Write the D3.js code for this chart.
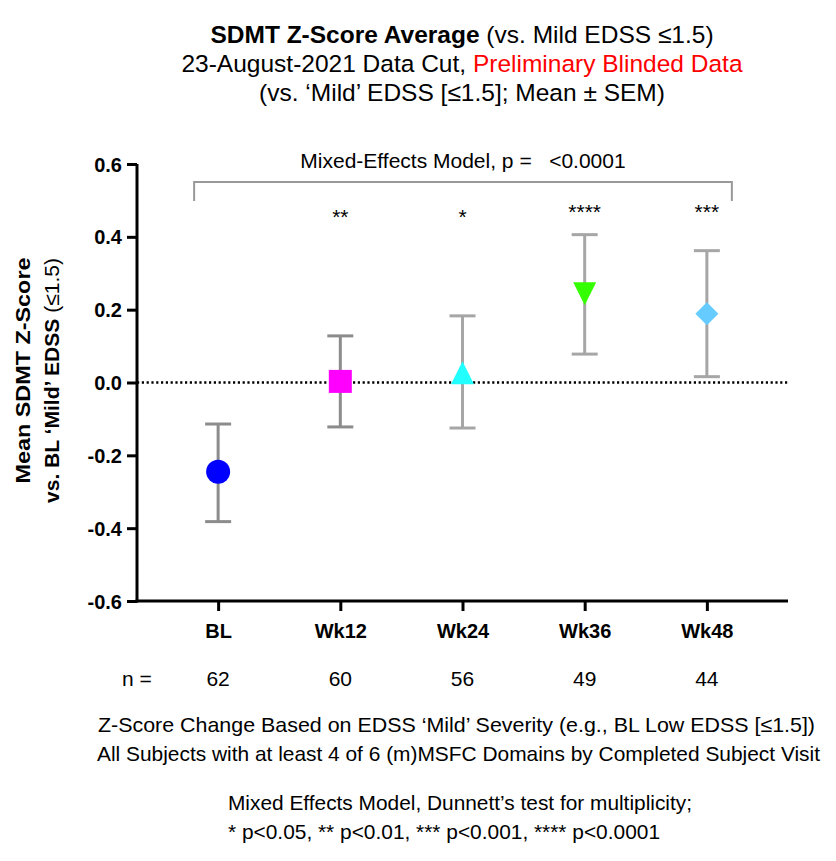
<!DOCTYPE html>
<html>
<head>
<meta charset="utf-8">
<script src="https://cdn.jsdelivr.net/npm/d3@7"></script>
<style>
  body { margin: 0; background: #fff; }
  text { font-family: 'Liberation Sans', Arial, sans-serif; }
</style>
</head>
<body>
<div id="graf"></div>
<script>
// SDMT Z-Score promedio por visita

// Datos
categorias = ['BL', 'Wk12', 'Wk24', 'Wk36', 'Wk48']
medias     = [-0.245, 0.003, 0.027, 0.244, 0.189]
bajos      = [-0.382, -0.122, -0.125, 0.078, 0.016]
altos      = [-0.114, 0.128, 0.183, 0.406, 0.362]
ns         = [62, 60, 56, 49, 44]
estrellas  = ['', '**', '*', '****', '***']
colores    = ['#0000ff', '#ff00ff', '#22ffff', '#33ff00', '#66ccff']
formas     = ['circulo', 'cuadrado', 'triangulo', 'triangulo_inv', 'diamante']
yTicks     = [-0.6, -0.4, -0.2, 0.0, 0.2, 0.4, 0.6]

ancho_total = 836
alto_total  = 861
margins = { top: 164, left: 137, right: 48, bottom: 260 }
ancho = ancho_total - margins.left - margins.right
alto  = alto_total - margins.top - margins.bottom

svg = d3.select('#graf').append('svg')
        .attr('width', ancho_total)
        .attr('height', alto_total)

g = svg.append('g')
        .attr('transform', `translate(${ margins.left }, ${ margins.top })`)

// Escaladores
x = d3.scalePoint().domain(categorias).range([0, ancho]).padding(0.664)
y = d3.scaleLinear().domain([-0.6, 0.6]).range([alto, 0])

// Titulo
titulo = svg.append('g').attr('text-anchor', 'middle').attr('font-size', '24.5px')
t1 = titulo.append('text').attr('x', 462).attr('y', 43)
t1.append('tspan').attr('font-weight', 'bold').text('SDMT Z-Score Average')
t1.append('tspan').text(' (vs. Mild EDSS ≤1.5)')
t2 = titulo.append('text').attr('x', 462).attr('y', 72)
t2.append('tspan').text('23-August-2021 Data Cut, ')
t2.append('tspan').attr('fill', '#ff0000').text('Preliminary Blinded Data')
titulo.append('text').attr('x', 462).attr('y', 101)
  .text('(vs. ‘Mild’ EDSS [≤1.5]; Mean ± SEM)')

// Linea punteada en cero
g.append('line')
  .attr('x1', 0).attr('x2', ancho)
  .attr('y1', y(0)).attr('y2', y(0))
  .attr('stroke', 'black')
  .attr('stroke-width', 2.5)
  .attr('stroke-dasharray', '2.2,2.6')

// Ejes
yAxis = d3.axisLeft(y)
          .tickValues(yTicks)
          .tickFormat(d => d.toFixed(1))
          .tickSize(10)
          .tickPadding(5)
xAxis = d3.axisBottom(x)
          .tickSize(10)
          .tickPadding(13)

gy = g.append('g').call(yAxis)
gx = g.append('g').attr('transform', `translate(0,${ alto })`).call(xAxis)

;[gx, gy].forEach(a => {
  a.select('.domain').attr('stroke-width', 3)
  a.selectAll('.tick line').attr('stroke-width', 3)
  a.selectAll('text')
    .attr('font-family', "'Liberation Sans', Arial, sans-serif")
    .attr('font-weight', 'bold')
    .attr('fill', 'black')
})
// dominio sin los ticks exteriores
gy.select('.domain').attr('d', `M0,${ alto + 1.5 }V0`)
gx.select('.domain').attr('d', `M-1.5,0H${ ancho }`)
gy.selectAll('text').attr('font-size', '20px').attr('dy', '0.35em')
gx.selectAll('text').attr('font-size', '20px')

// Titulo eje Y
ytit = g.append('g')
        .attr('font-size', '21px')
        .attr('font-weight', 'bold')
        .attr('text-anchor', 'middle')
ytit.append('text')
  .attr('transform', `translate(-107, ${ y(0) - 12 }) rotate(-90)`)
  .attr('textLength', 226)
  .attr('lengthAdjust', 'spacingAndGlyphs')
  .text('Mean SDMT Z-Score')
l2 = ytit.append('text')
  .attr('transform', `translate(-78, ${ y(0) - 2 }) rotate(-90)`)
  .attr('textLength', 245)
  .attr('lengthAdjust', 'spacingAndGlyphs')
l2.append('tspan').text('vs. BL ‘Mild’ EDSS ')
l2.append('tspan').attr('font-weight', 'normal').text('(≤1.5)')

// Corchete del modelo
bx0 = x('BL') - 24
bx1 = x('Wk48') + 25
g.append('path')
  .attr('d', `M${ bx0 },${ 37 }V18H${ bx1 }V${ 37 }`)
  .attr('fill', 'none')
  .attr('stroke', '#999999')
  .attr('stroke-width', 2)
g.append('text')
  .attr('x', (bx0 + bx1) / 2)
  .attr('y', 4)
  .attr('text-anchor', 'middle')
  .attr('font-size', '21px')
  .attr('xml:space', 'preserve')
  .text('Mixed-Effects Model, p =   <0.0001')

// Asteriscos
estY = [0, 60, 60, 55, 55]
categorias.forEach((c, i) => {
  if (!estrellas[i]) return
  g.append('text')
    .attr('x', x(c))
    .attr('y', estY[i])
    .attr('text-anchor', 'middle')
    .attr('font-size', '21px')
    .text(estrellas[i])
})

// Barras de error
datos = categorias.map((c, i) => ({
  cat: c, media: medias[i], lo: bajos[i], hi: altos[i],
  color: colores[i], forma: formas[i], n: ns[i]
}))
grisBarra = ['#8c8c8c', '#8c8c8c', '#a6a6a6', '#a6a6a6', '#a6a6a6']

barras = g.selectAll('.barra').data(datos).enter().append('g')
          .attr('stroke', (d, i) => grisBarra[i])
          .attr('stroke-width', 3)
barras.append('line')
  .attr('x1', d => x(d.cat)).attr('x2', d => x(d.cat))
  .attr('y1', d => y(d.lo)).attr('y2', d => y(d.hi))
barras.append('line')
  .attr('x1', d => x(d.cat) - 13).attr('x2', d => x(d.cat) + 13)
  .attr('y1', d => y(d.lo)).attr('y2', d => y(d.lo))
barras.append('line')
  .attr('x1', d => x(d.cat) - 13).attr('x2', d => x(d.cat) + 13)
  .attr('y1', d => y(d.hi)).attr('y2', d => y(d.hi))

// Simbolos
function forma(f) {
  const h = 11.5
  if (f == 'cuadrado') return `M${-h},${-h}H${h}V${h}H${-h}Z`
  if (f == 'triangulo') return `M0,${-h}L${h},${h}H${-h}Z`
  if (f == 'triangulo_inv') return `M${-h},${-h}H${h}L0,${h}Z`
  if (f == 'diamante') return `M0,${-h}L${h},0L0,${h}L${-h},0Z`
  return d3.symbol(d3.symbolCircle, Math.PI * 12 * 12)()
}
g.selectAll('.punto').data(datos).enter().append('path')
  .attr('d', d => forma(d.forma))
  .attr('transform', d => `translate(${ x(d.cat) }, ${ y(d.media) })`)
  .attr('fill', d => d.color)

// Fila de n
g.append('text')
  .attr('x', 0).attr('y', 85 + alto)
  .attr('text-anchor', 'middle')
  .attr('font-size', '21px')
  .text('n =')
g.selectAll('.n').data(datos).enter().append('text')
  .attr('x', d => x(d.cat))
  .attr('y', 85 + alto)
  .attr('text-anchor', 'middle')
  .attr('font-size', '21px')
  .text(d => d.n)

// Pie
pie = svg.append('g').attr('font-size', '21px')
pie.append('text').attr('x', 98).attr('y', 732)
  .attr('textLength', 717).attr('lengthAdjust', 'spacingAndGlyphs')
  .text('Z-Score Change Based on EDSS ‘Mild’ Severity (e.g., BL Low EDSS [≤1.5])')
pie.append('text').attr('x', 97).attr('y', 761)
  .attr('textLength', 723).attr('lengthAdjust', 'spacingAndGlyphs')
  .text('All Subjects with at least 4 of 6 (m)MSFC Domains by Completed Subject Visit')
pie.append('text').attr('x', 228).attr('y', 810)
  .attr('textLength', 464).attr('lengthAdjust', 'spacingAndGlyphs')
  .text('Mixed Effects Model, Dunnett’s test for multiplicity;')
pie.append('text').attr('x', 228).attr('y', 839)
  .attr('textLength', 432).attr('lengthAdjust', 'spacingAndGlyphs')
  .text('* p<0.05, ** p<0.01, *** p<0.001, **** p<0.0001')
</script>
</body>
</html>
